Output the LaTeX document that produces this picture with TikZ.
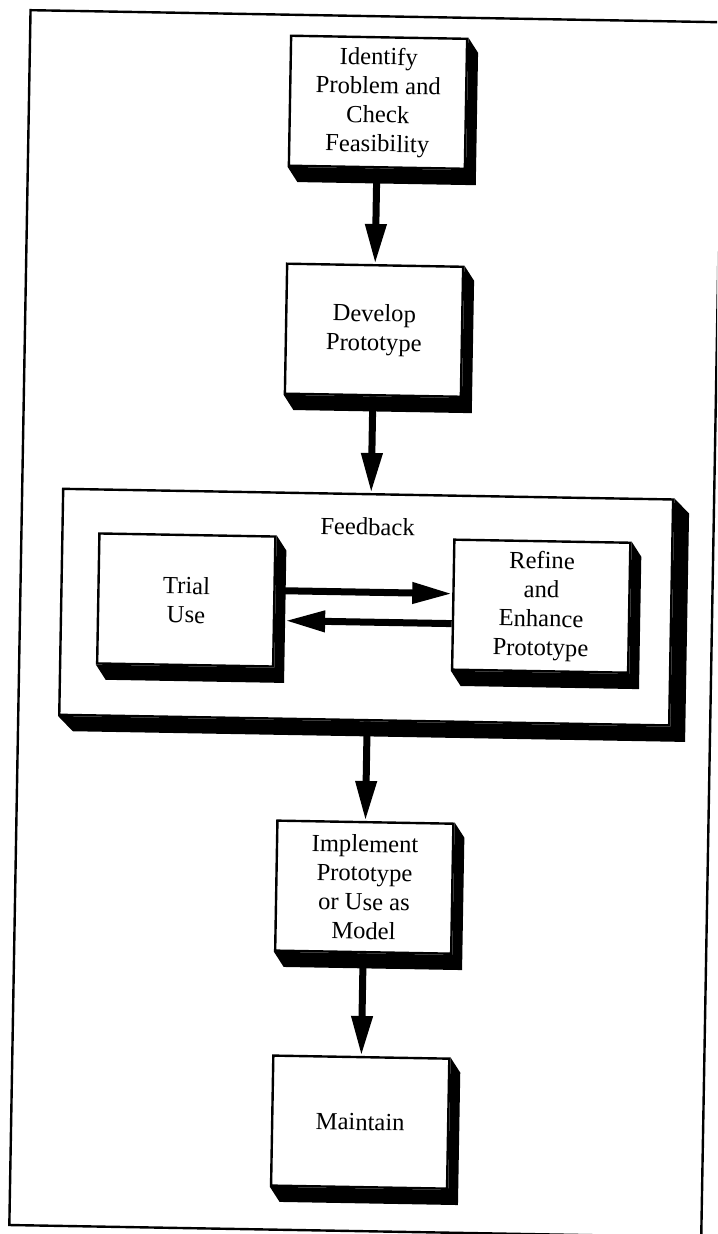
\documentclass[tikz,border=0pt]{standalone}
\usepackage{fontspec}
\setmainfont{Liberation Serif}
\usetikzlibrary{arrows.meta,positioning}
\tikzset{
  stepbox/.style={draw,line width=1.2pt,minimum width=88pt,minimum height=65pt,align=center,inner sep=2pt},
  flow/.style={line width=3.5pt,-{Triangle[length=20pt,width=10pt]}},
}
\begin{document}
\begin{tikzpicture}[x=0.5pt,y=-0.5pt,font=\fontsize{12.3}{14.5}\selectfont]
\useasboundingbox (0,0) rectangle (717,1234);
\clip (0,0) rectangle (717,1234);
\begin{scope}[rotate around={-1:(358,617)},transform shape]
% frame of the figure
\draw[line width=1.2pt] (20,16) rectangle (712,1231);

\node[stepbox] (ident) at (369,102) {Identify\\Problem and\\Check\\Feasibility};
\node[stepbox] (devel) at (369,330) {Develop\\Prototype};
\node[draw,line width=1.2pt,minimum width=305pt,minimum height=113pt] (fb) at (366,607) {};
\node[below=9pt of fb.north] (fbtext) {Feedback};
\node[stepbox] (trial) at (186,603) {Trial\\Use};
\node[stepbox] (refine) at (541,603) {Refine\\and\\Enhance\\Prototype};
\node[stepbox] (impl) at (369,887) {Implement\\Prototype\\or Use as\\Model};
\node[stepbox] (maint) at (369,1122) {Maintain};

% shadows
\foreach \n/\dx in {ident/10,devel/10,fb/15,trial/10,refine/10,impl/10,maint/10}{
  \path (\n.north east) ++(\dx,15) coordinate (p)
        (\n.south east) ++(\dx,15) coordinate (q)
        (\n.south west) ++(\dx,15) coordinate (r);
  \fill (\n.north east) -- (p) -- (q) -- (r) -- (\n.south west) -- (\n.south east) -- cycle;
}

\draw[flow] (ident) -- (devel);
\draw[flow] (devel.south) -- (devel.south |- fb.north);
\draw[flow] (trial.7) -- (refine.173);
\draw[flow,shorten >=5pt] (refine.192) -- (trial.348);
\draw[flow] (fb.south -| impl.north) -- (impl.north);
\draw[flow] (impl) -- (maint);
\end{scope}
\end{tikzpicture}
\end{document}
